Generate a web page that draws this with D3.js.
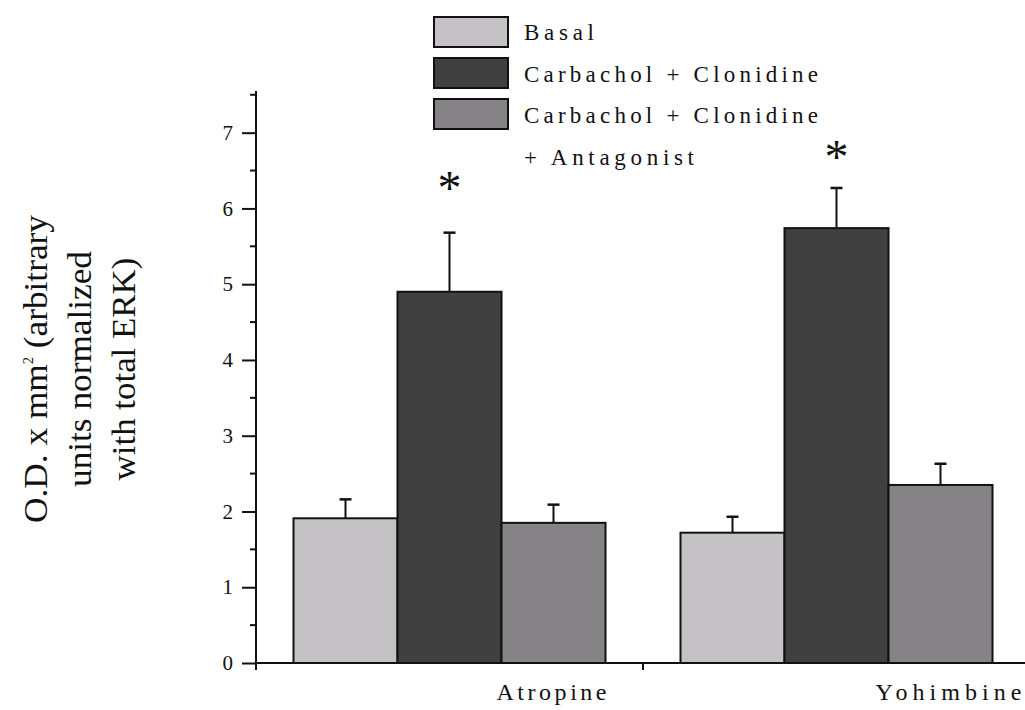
<!DOCTYPE html>
<html>
<head>
<meta charset="utf-8">
<script src="https://cdn.jsdelivr.net/npm/d3@7"></script>
<style>
  html, body { margin: 0; padding: 0; background: #fff; }
  svg { display: block; }
  text { font-family: "Liberation Serif", "DejaVu Serif", serif; fill: #111; }
</style>
</head>
<body>
<svg id="chart" width="1025" height="710"></svg>
<script>
// ---- data ----
const categories = ["Atropine", "Yohimbine"];
const seriesNames = ["Basal", "Carbachol + Clonidine", "Carbachol + Clonidine + Antagonist"];
const basalValues = [1.91, 1.72];
const basalErrors = [0.25, 0.21];
const carbacholValues = [4.90, 5.74];
const carbacholErrors = [0.78, 0.53];
const antagonistValues = [1.85, 2.35];
const antagonistErrors = [0.24, 0.28];
const yTicks = [0, 1, 2, 3, 4, 5, 6, 7];
const yMinorTicks = [0.5, 1.5, 2.5, 3.5, 4.5, 5.5, 6.5, 7.5];
const significance = [
  { category: "Atropine", series: 1, markValue: 6.27 },
  { category: "Yohimbine", series: 1, markValue: 6.69 }
];

// ---- styling ----
const colors = ["#c4c2c5", "#404040", "#858386"];
const svg = d3.select("#chart");

const y = d3.scaleLinear().domain([0, 7.55]).range([663, 91]);
const x = d3.scaleBand().domain(categories).range([256, 1030]).padding(0);
const xs = d3.scaleBand().domain(d3.range(3)).range([37.5, 349.5]).padding(0);

const series = [
  { values: basalValues, errors: basalErrors },
  { values: carbacholValues, errors: carbacholErrors },
  { values: antagonistValues, errors: antagonistErrors }
];

const barData = [];
categories.forEach((c, ci) => {
  series.forEach((s, si) => {
    barData.push({ category: c, si, value: s.values[ci], err: s.errors[ci] });
  });
});

// error bars
const eb = svg.append("g");
barData.forEach(d => {
  const cx = x(d.category) + xs(d.si) + xs.bandwidth() / 2;
  eb.append("line")
    .attr("x1", cx).attr("x2", cx)
    .attr("y1", y(d.value)).attr("y2", y(d.value + d.err))
    .attr("stroke", "#111").attr("stroke-width", 2);
  eb.append("line")
    .attr("x1", cx - 6).attr("x2", cx + 6)
    .attr("y1", y(d.value + d.err)).attr("y2", y(d.value + d.err))
    .attr("stroke", "#111").attr("stroke-width", 2.5);
});

// bars
svg.append("g").selectAll("rect").data(barData).join("rect")
  .attr("x", d => x(d.category) + xs(d.si))
  .attr("y", d => y(d.value))
  .attr("width", xs.bandwidth())
  .attr("height", d => y(0) - y(d.value))
  .attr("fill", d => colors[d.si])
  .attr("stroke", "#111")
  .attr("stroke-width", 2);

// y axis
const yAxis = d3.axisLeft(y).tickValues(yTicks).tickSize(14).tickPadding(9).tickFormat(d3.format("d"));
const yg = svg.append("g").attr("transform", "translate(256,0)").call(yAxis);
yg.select(".domain").attr("d", `M0,${y(7.55)}V${y(0) + 5}`).attr("stroke", "#111").attr("stroke-width", 2);
yg.selectAll(".tick line").attr("stroke", "#111").attr("stroke-width", 2);
yg.selectAll(".tick text").style("font-family", "'Liberation Serif', serif").style("font-size", "21px").attr("fill", "#111");
yg.append("g").selectAll("line").data(yMinorTicks).join("line")
  .attr("x1", -6).attr("x2", 0)
  .attr("y1", d => y(d)).attr("y2", d => y(d))
  .attr("stroke", "#111").attr("stroke-width", 2);

// x axis
const xBoundaries = [x.range()[0], x(categories[1]), x.range()[1]];
svg.append("line").attr("x1", 255).attr("x2", 1030).attr("y1", y(0)).attr("y2", y(0))
  .attr("stroke", "#111").attr("stroke-width", 2);
svg.append("g").selectAll("line").data(xBoundaries).join("line")
  .attr("x1", d => d).attr("x2", d => d)
  .attr("y1", y(0)).attr("y2", y(0) + 7)
  .attr("stroke", "#111").attr("stroke-width", 2);

const labelOffsets = [102, 112];
const labelLengths = [110, 146];
svg.append("g").selectAll("text").data(categories).join("text")
  .attr("x", (d, i) => x(d) + x.bandwidth() / 2 + labelOffsets[i])
  .attr("y", 700)
  .attr("text-anchor", "middle")
  .attr("textLength", (d, i) => labelLengths[i])
  .attr("lengthAdjust", "spacing")
  .style("font-size", "24px")
  .text(d => d);

// significance marks
significance.forEach(s => {
  const cx = x(s.category) + xs(s.series) + xs.bandwidth() / 2;
  const t = svg.append("text")
    .attr("x", cx).attr("y", y(s.markValue))
    .attr("text-anchor", "middle")
    .style("font-family", "'Liberation Serif', serif")
    .style("font-size", "48px")
    .text("*");
  const bb = t.node().getBBox();
  t.attr("y", y(s.markValue) + (y(s.markValue) - (bb.y + bb.height / 2)));
});

// y axis title
const titleLines = [
  { parts: [["O.D. x mm", false], ["2", true], [" (arbitrary", false]], x: 47, len: 308 },
  { parts: [["units normalized", false]], x: 91, len: 236 },
  { parts: [["with total ERK)", false]], x: 135, len: 223 }
];
titleLines.forEach(l => {
  const t = svg.append("text")
    .attr("transform", `translate(${l.x},369) rotate(-90)`)
    .attr("text-anchor", "middle")
    .style("font-size", "34px");
  l.parts.forEach(([txt, sup]) => {
    const ts = t.append("tspan").text(txt);
    if (sup) ts.attr("dy", -14).style("font-size", "14px");
    else if (txt.startsWith(" ")) ts.attr("dy", 14);
  });
  const w = t.node().getComputedTextLength();
  t.attr("transform", `translate(${l.x},369) rotate(-90) scale(${l.len / w},1)`);
});

// legend
const legendItems = [
  { label: "Basal", len: 70 },
  { label: "Carbachol + Clonidine", len: 294 },
  { label: "Carbachol + Clonidine", len: 294, extra: "+ Antagonist", extraLen: 170 }
];
const lg = svg.append("g");
legendItems.forEach((it, i) => {
  lg.append("rect")
    .attr("x", 434).attr("y", 17 + i * 41)
    .attr("width", 74).attr("height", 30)
    .attr("fill", colors[i]).attr("stroke", "#111").attr("stroke-width", 2);
  lg.append("text")
    .attr("x", 524).attr("y", 40 + i * 41.5)
    .attr("textLength", it.len).attr("lengthAdjust", "spacing")
    .style("font-size", "23px")
    .text(it.label);
  if (it.extra) {
    lg.append("text")
      .attr("x", 524).attr("y", 40 + (i + 1) * 41.5)
      .attr("textLength", it.extraLen).attr("lengthAdjust", "spacing")
      .style("font-size", "23px")
      .text(it.extra);
  }
});
</script>
</body>
</html>
